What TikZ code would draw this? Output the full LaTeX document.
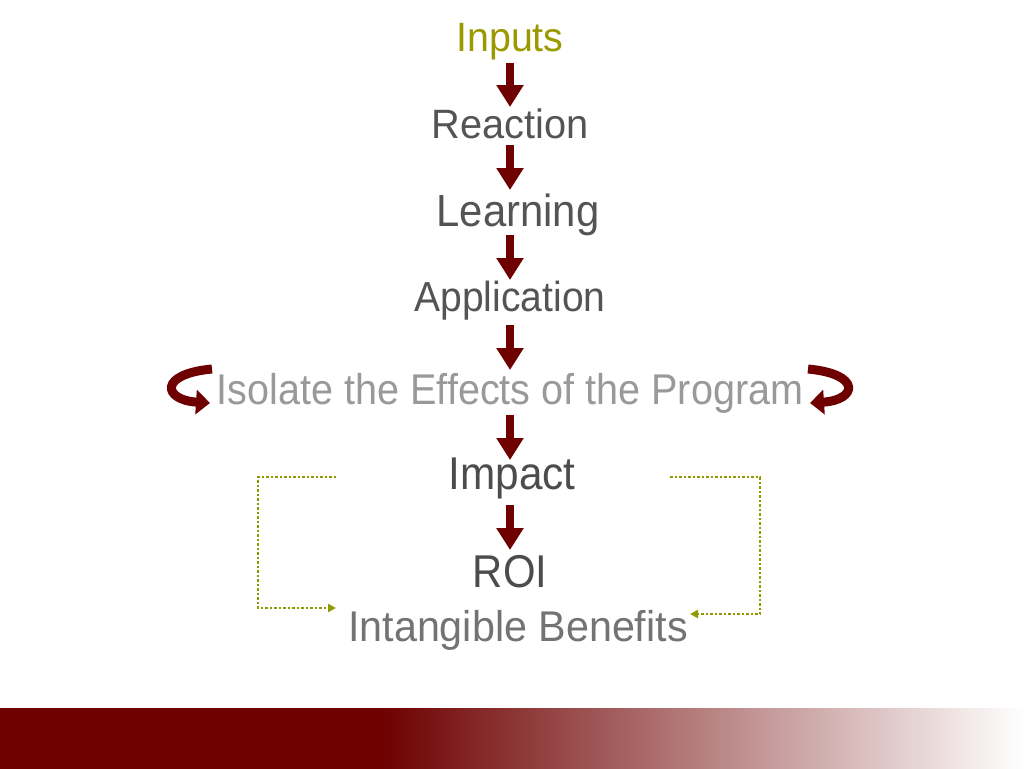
\documentclass[tikz,border=0pt]{standalone}
\usepackage{fontspec}
\setmainfont{Liberation Sans}
\usetikzlibrary{arrows.meta}
\definecolor{dred}{HTML}{6E0000}
\definecolor{olive}{HTML}{9A9A00}
\definecolor{dots}{HTML}{8F9A00}
\newcommand{\nar}[2]{\scalebox{#1}[1]{#2}}
\begin{document}
\begin{tikzpicture}[x=1pt,y=-1pt,
  lbl/.style={inner sep=0pt,anchor=center},
  blk/.style={draw=dred,line width=8pt,-{Triangle[width=26pt,length=22pt]}},
  curv/.style={draw=dred,line width=9pt,-{Triangle[width=24pt,length=14pt]}},
  dotc/.style={draw=dots,line width=2.5pt,dotted,-{Triangle[width=8pt,length=8pt]}}]
\useasboundingbox (0,0) rectangle (1024,768);
\shade[left color=dred,right color=dred] (0,708) rectangle (380,768);
\shade[left color=dred,right color=white] (380,708) rectangle (1024,768);
\node[lbl,text=olive,font=\fontsize{41}{48}\selectfont] (inp) at (510,42) {\nar{0.96}{Inputs}};
\node[lbl,text=black!67,font=\fontsize{41}{48}\selectfont] (rea) at (510,124) {\nar{0.97}{Reaction}};
\node[lbl,text=black!67,font=\fontsize{45}{52}\selectfont] (lea) at (518,215) {\nar{0.93}{Learning}};
\node[lbl,text=black!67,font=\fontsize{42}{50}\selectfont] (app) at (510,301) {\nar{0.93}{Application}};
\node[lbl,text=black!40,font=\fontsize{43}{50}\selectfont] (iso) at (510,393) {\nar{0.92}{Isolate the Effects of the Program}};
\node[lbl,text=black!70,font=\fontsize{46}{54}\selectfont] (imp) at (512,478) {\nar{0.92}{Impact}};
\node[lbl,text=black!70,font=\fontsize{46}{54}\selectfont] (roi) at (510,572) {\nar{0.91}{ROI}};
\node[lbl,text=black!55,font=\fontsize{43}{50}\selectfont] (int) at (518,630) {\nar{0.96}{Intangible Benefits}};
\draw[blk,shorten <=21pt,shorten >=17pt] (inp.center) -- (rea.center);
\draw[blk,shorten <=21pt,shorten >=25pt] (rea.center) -- (rea.center |- lea.center);
\draw[blk,shorten <=20pt,shorten >=21pt] (rea.center |- lea.center) -- (app.center);
\draw[blk,shorten <=24pt,shorten >=23pt] (app.center) -- (iso.center);
\draw[blk,shorten <=22pt,shorten >=18pt] (iso.center) -- (iso.center |- imp.center);
\draw[blk,shorten <=27pt,shorten >=22pt] (iso.center |- imp.center) -- (roi.center);
\coordinate (ls) at (212,369);
\coordinate (le) at (210,403);
\coordinate (rs) at (808,369);
\coordinate (re) at (810,403);
\draw[curv] (ls) .. controls (158,374) and (163,400) .. (le);
\draw[curv] (rs) .. controls (862,374) and (857,400) .. (re);
\coordinate (l1) at (336,477);
\coordinate (l2) at (258,477);
\coordinate (l3) at (258,608);
\coordinate (l4) at (336,608);
\coordinate (r1) at (670,477);
\coordinate (r2) at (760,477);
\coordinate (r3) at (760,614);
\coordinate (r4) at (690,614);
\draw[dotc] (l1) -- (l2) -- (l3) -- (l4);
\draw[dotc] (r1) -- (r2) -- (r3) -- (r4);
\end{tikzpicture}
\end{document}
